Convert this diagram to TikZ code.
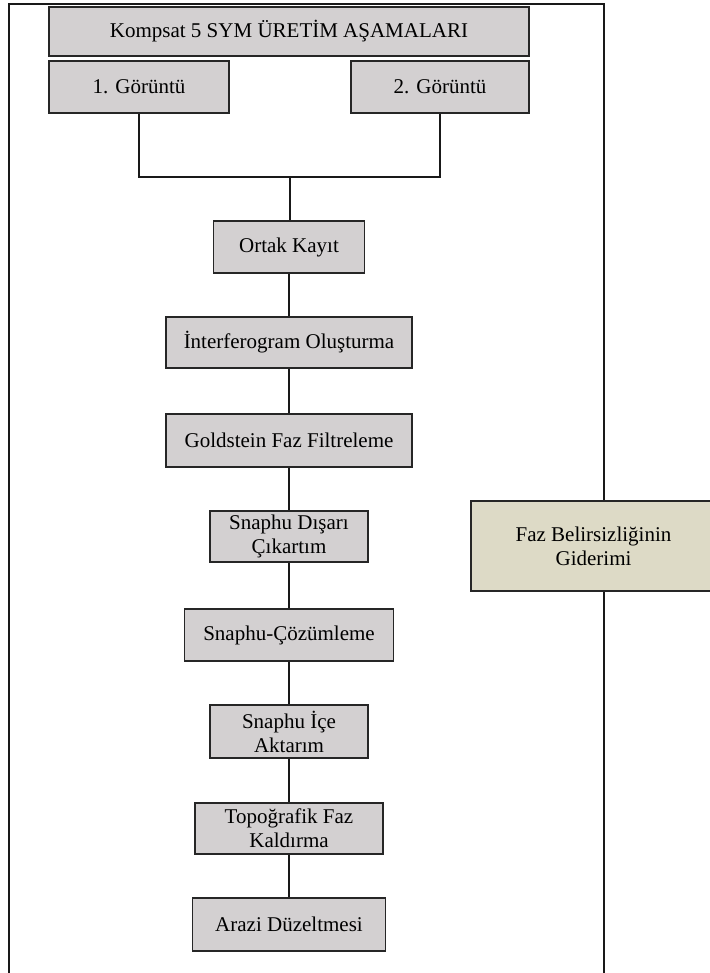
\documentclass[tikz,border=0pt]{standalone}
\usepackage{fontspec}
\setmainfont{Liberation Serif}
\definecolor{boxgray}{RGB}{211,208,209}
\definecolor{boxbeige}{RGB}{221,218,198}
\begin{document}
\begin{tikzpicture}[x=1pt,y=-1pt,
  gbox/.style={draw=black!85, line width=1.8pt, fill=boxgray, rectangle, inner sep=0pt, align=center,
    font=\fontsize{21}{24}\selectfont},
  bbox/.style={gbox, fill=boxbeige, line width=1.3pt},
  conn/.style={line width=2pt, black!90},
  frame/.style={line width=1.8pt, black!90}]
\useasboundingbox (0,0) rectangle (709,973);
% outer frame
\draw[frame] (9,990) -- (9,4) -- (604,4) -- (604,990);
% nodes
\node[gbox, minimum width=480, minimum height=49] (title) at (289,31.5) {Kompsat 5 SYM ÜRETİM AŞAMALARI};
\node[gbox, minimum width=180, minimum height=52] (g1) at (139,87) {1. Görüntü};
\node[gbox, minimum width=178, minimum height=52] (g2) at (440,87) {2. Görüntü};
\node[gbox, minimum width=151, minimum height=52] (ortak) at (289,247) {Ortak Kayıt};
\node[gbox, minimum width=246, minimum height=51] (interf) at (289,342.5) {İnterferogram Oluşturma};
\node[gbox, minimum width=246, minimum height=53] (gold) at (289,440.5) {Goldstein Faz Filtreleme};
\node[gbox, minimum width=158, minimum height=51] (disari) at (289,536.5) {Snaphu Dışarı\\Çıkartım};
\node[gbox, minimum width=209, minimum height=52] (cozum) at (289,635) {Snaphu-Çözümleme};
\node[gbox, minimum width=158, minimum height=53] (ice) at (289,731.5) {Snaphu İçe\\Aktarım};
\node[gbox, minimum width=188, minimum height=51] (topo) at (289,828.5) {Topoğrafik Faz\\Kaldırma};
\node[gbox, minimum width=193, minimum height=53] (arazi) at (289,924.5) {Arazi Düzeltmesi};
\node[bbox, minimum width=245, minimum height=90] (faz) at (593.5,546) {Faz Belirsizliğinin\\Giderimi};
% connectors
\coordinate (j) at (290,177);
\draw[conn] (g1.south) |- (j) -| (g2.south);
\draw[conn] (j) -- (j |- ortak.north);
\draw[conn] (ortak.south) -- (interf.north);
\draw[conn] (interf.south) -- (gold.north);
\draw[conn] (gold.south) -- (disari.north);
\draw[conn] (disari.south) -- (cozum.north);
\draw[conn] (cozum.south) -- (ice.north);
\draw[conn] (ice.south) -- (topo.north);
\draw[conn] (topo.south) -- (arazi.north);
\end{tikzpicture}
\end{document}
